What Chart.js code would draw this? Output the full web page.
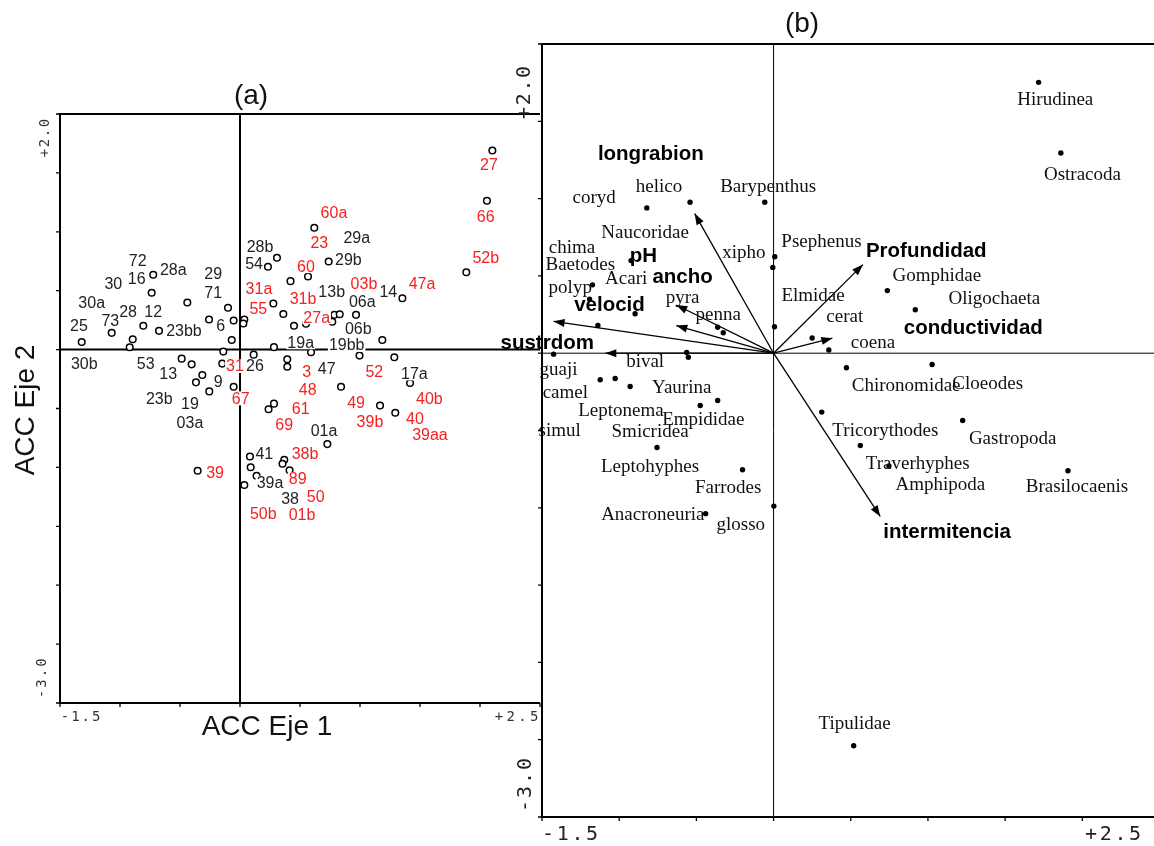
<!DOCTYPE html>
<html>
<head>
<meta charset="utf-8">
<script src="https://cdn.jsdelivr.net/npm/chart.js@4.4.0/dist/chart.umd.min.js"></script>
<style>
  html, body { margin: 0; padding: 0; background: #fff; overflow: hidden; }
  canvas { position: absolute; left: 0; top: 0; }
</style>
</head>
<body>
<canvas id="chartA" width="1154" height="846"></canvas>
<canvas id="chartB" width="1170" height="846"></canvas>
<script>
// ---- panel (a): sites ----
const siteX = [-1.319, -1.069, -0.894, -0.919, -0.806, -0.736, -0.723, -0.675, -0.439, -0.258,
  -0.100, -0.053, -0.069, -0.139, 0.036, 0.028, 0.233, 0.308, 0.278, 0.361,
  0.421, 0.450, 0.283, 0.114, -0.486, 0.550, 2.103, 2.058, 0.619, 0.739,
  1.886, 0.567, 1.353, 0.769, 0.786, 0.831, 0.967, 1.186, 0.592, 0.394,
  0.996, 1.286, -0.403, -0.148, 0.394, -0.314, -0.367, -0.256, -0.053, 0.238,
  0.283, 0.083, 0.089, -0.353, 0.036, 0.138, 0.369, 0.354, 0.413, 0.842,
  1.417, 1.167, 1.294, 0.728];
const siteY = [0.064, 0.142, 0.088, 0.020, 0.202, 0.482, 0.635, 0.159, 0.400, 0.255,
  0.355, 0.247, 0.082, -0.017, 0.255, 0.221, 0.703, 0.780, 0.391, 0.302,
  0.581, 0.202, 0.021, -0.043, -0.077, 0.219, 1.690, 1.264, 1.035, 0.748,
  0.657, 0.621, 0.436, 0.236, 0.295, 0.300, 0.295, 0.082, -0.023, -0.082,
  -0.051, -0.065, -0.125, -0.119, -0.145, -0.215, -0.278, -0.355, -0.315, -0.506,
  -0.459, -0.907, -0.999, -1.029, -1.150, -1.071, -0.935, -0.969, -1.025, -0.315,
  -0.283, -0.474, -0.536, -0.802];

const blackLabels = ['72', '30', '16', '28a', '29', '71', '30a', '28', '12', '25', '73', '23bb', '6',
  '28b', '54', '19a', '29a', '29b', '13b', '06a', '14', '06b', '19bb', '30b', '53', '13', '9', '26',
  '23b', '19', '03a', '41', '39a', '38', '47', '17a', '01a'];
const blackLabelX = [-0.853, -1.056, -0.861, -0.556, -0.223, -0.223, -1.236, -0.933, -0.723, -1.342, -1.081, -0.467, -0.161,
  0.167, 0.117, 0.506, 0.973, 0.903, 0.764, 1.019, 1.236, 0.986, 0.889, -1.298, -0.786, -0.598, -0.181, 0.125,
  -0.673, -0.417, -0.417, 0.203, 0.250, 0.417, 0.723, 1.453, 0.700];
const blackLabelY = [0.757, 0.564, 0.601, 0.678, 0.644, 0.482, 0.402, 0.326, 0.326, 0.202, 0.244, 0.162, 0.202,
  0.878, 0.729, 0.062, 0.955, 0.765, 0.493, 0.408, 0.493, 0.181, 0.040, -0.122, -0.122, -0.202, -0.270, -0.139,
  -0.419, -0.462, -0.618, -0.882, -1.131, -1.264, -0.159, -0.202, -0.689];

const redLabels = ['27', '66', '60a', '23', '52b', '60', '31a', '55', '31b', '03b', '47a', '27a', '31', '67',
  '3', '52', '48', '49', '40b', '61', '39b', '40', '39aa', '69', '39', '38b', '89', '50', '50b', '01b'];
const redLabelX = [2.075, 2.048, 0.783, 0.661, 2.048, 0.550, 0.158, 0.153, 0.525, 1.033, 1.517, 0.639, -0.042, 0.006,
  0.556, 1.119, 0.564, 0.967, 1.578, 0.506, 1.083, 1.458, 1.583, 0.368, -0.208, 0.542, 0.481, 0.631, 0.194, 0.517];
const redLabelY = [1.571, 1.131, 1.159, 0.910, 0.785, 0.708, 0.519, 0.344, 0.431, 0.564, 0.564, 0.275, -0.139, -0.414,
  -0.185, -0.185, -0.340, -0.448, -0.419, -0.499, -0.612, -0.584, -0.725, -0.638, -1.043, -0.887, -1.099, -1.247, -1.392, -1.397];

// ---- panel (b): species and environmental variables ----
const speciesX = [1.717, 1.861, -0.541, -0.821, -0.057, 0.008, -0.005, -0.923, -1.173, -1.192,
  -0.897, -1.138, -0.362, -0.326, 0.006, 0.250, 0.358, 0.737, 0.918, -1.425,
  -0.563, -0.552, -1.123, -1.026, -0.929, -0.475, -0.362, -0.755, -0.201, 0.002,
  -0.440, 0.312, 0.472, 1.027, 1.225, 0.562, 0.747, 1.907, 0.519];
const speciesY = [1.752, 1.295, 0.976, 0.940, 0.976, 0.624, 0.555, 0.599, 0.442, 0.350,
  0.255, 0.179, 0.168, 0.132, 0.171, 0.098, 0.021, 0.405, 0.281, -0.006,
  0.005, -0.026, -0.172, -0.164, -0.215, -0.338, -0.306, -0.610, -0.754, -0.989,
  -1.038, -0.381, -0.094, -0.073, -0.435, -0.597, -0.730, -0.760, -2.539];

const speciesNames = ['coryd', 'helico', 'Barypenthus', 'Naucoridae', 'chima', 'Baetodes', 'Acari', 'xipho',
  'Psephenus', 'polyp', 'pyra', 'penna', 'Elmidae', 'cerat', 'coena', 'Hirudinea', 'Ostracoda', 'Gomphidae',
  'Oligochaeta', 'bival', 'guaji', 'Yaurina', 'camel', 'Leptonema', 'Empididae', 'simul', 'Smicridea',
  'Leptohyphes', 'Farrodes', 'Anacroneuria', 'glosso', 'Chironomidae', 'Cloeodes', 'Tricorythodes',
  'Gastropoda', 'Traverhyphes', 'Amphipoda', 'Brasilocaenis', 'Tipulidae'];
const speciesLabelX = [-1.162, -0.742, -0.035, -0.832, -1.306, -1.252, -0.955, -0.192,
  0.310, -1.317, -0.589, -0.358, 0.256, 0.461, 0.644, 1.825, 2.001, 1.057,
  1.430, -0.832, -1.393, -0.595, -1.349, -0.989, -0.455, -1.386, -0.800,
  -0.800, -0.294, -0.782, -0.212, 0.859, 1.387, 0.724,
  1.549, 0.934, 1.081, 1.965, 0.525];
const speciesLabelY = [1.005, 1.073, 1.073, 0.776, 0.681, 0.571, 0.483, 0.646,
  0.722, 0.423, 0.358, 0.250, 0.373, 0.233, 0.065, 1.640, 1.153, 0.498,
  0.352, -0.058, -0.112, -0.224, -0.256, -0.377, -0.431, -0.504, -0.511,
  -0.737, -0.873, -1.045, -1.109, -0.213, -0.198, -0.506,
  -0.558, -0.715, -0.855, -0.866, -2.400];

const envNames = ['longrabion', 'pH', 'ancho', 'velocid', 'sustrdom', 'Profundidad', 'conductividad', 'intermitencia'];
const envX = [-0.511, -0.630, -0.630, -1.425, -1.090, 0.579, 0.381, 0.691];
const envY = [0.903, 0.312, 0.179, 0.206, 0.000, 0.573, 0.097, -1.056];
const envLabelX = [-0.795, -0.843, -0.589, -1.063, -1.466, 0.989, 1.294, 1.124];
const envLabelY = [1.289, 0.625, 0.491, 0.308, 0.063, 0.657, 0.158, -1.157];

const SANS = '"Liberation Sans", Arial, sans-serif';
const SERIF = '"Liberation Serif", "Times New Roman", serif';
const MONO = '"DejaVu Sans Mono", monospace';

// draw a string one char at a time (CANOCO style spaced tick labels)
function spaced(ctx, text, x, y, step, vertical) {
  for (let i = 0; i < text.length; i++) {
    if (vertical) {
      ctx.save();
      ctx.translate(x, y - i * step);
      ctx.rotate(-Math.PI / 2);
      ctx.fillText(text[i], 0, 0);
      ctx.restore();
    } else {
      ctx.fillText(text[i], x + i * step, y);
    }
  }
}

function zeroLines(chart, width) {
  const { ctx, chartArea: a, scales } = chart;
  const x0 = scales.x.getPixelForValue(0);
  const y0 = scales.y.getPixelForValue(0);
  ctx.save();
  ctx.strokeStyle = '#000';
  ctx.lineWidth = width;
  ctx.beginPath();
  ctx.moveTo(x0, a.top); ctx.lineTo(x0, a.bottom);
  ctx.moveTo(a.left, y0); ctx.lineTo(a.right, y0);
  ctx.stroke();
  ctx.restore();
}

function frame(chart, rightEdge) {
  const { ctx, chartArea: a, scales } = chart;
  ctx.save();
  ctx.strokeStyle = '#000';
  ctx.lineWidth = 2;
  ctx.beginPath();
  ctx.moveTo(rightEdge, a.top); ctx.lineTo(a.left, a.top);
  ctx.lineTo(a.left, a.bottom); ctx.lineTo(rightEdge, a.bottom);
  ctx.stroke();
  ctx.lineWidth = 1.3;
  ctx.beginPath();
  for (let v = -3; v <= 2.001; v += 0.5) {
    const y = scales.y.getPixelForValue(v);
    ctx.moveTo(a.left - 4, y); ctx.lineTo(a.left, y);
  }
  for (let v = -1.5; v <= 2.501; v += 0.5) {
    const x = scales.x.getPixelForValue(v);
    ctx.moveTo(x, a.bottom); ctx.lineTo(x, a.bottom + 4);
  }
  ctx.stroke();
  ctx.restore();
}

const panelA = {
  id: 'panelA',
  beforeDatasetsDraw(chart) { zeroLines(chart, 2); },
  afterDatasetsDraw(chart) {
    const { ctx, scales } = chart;
    ctx.save();
    ctx.font = '16px ' + SANS;
    ctx.textAlign = 'center';
    ctx.textBaseline = 'middle';
    const put = (names, xs, ys, color) => {
      names.forEach((t, i) => {
        const x = scales.x.getPixelForValue(xs[i]);
        const y = scales.y.getPixelForValue(ys[i]);
        const w = ctx.measureText(t).width;
        ctx.fillStyle = '#fff';
        ctx.fillRect(x - w / 2 - 1, y - 7, w + 2, 14);
        ctx.fillStyle = color;
        ctx.fillText(t, x, y + 1);
      });
    };
    put(blackLabels, blackLabelX, blackLabelY, '#222');
    put(redLabels, redLabelX, redLabelY, '#f52020');
    ctx.restore();
  },
  afterDraw(chart) {
    const { ctx } = chart;
    frame(chart, chart.chartArea.right);
    ctx.save();
    ctx.fillStyle = '#111';
    ctx.textAlign = 'center';
    ctx.textBaseline = 'middle';
    ctx.font = '28px ' + SANS;
    ctx.fillText('(a)', 251, 96);
    ctx.fillText('ACC Eje 1', 267, 727);
    ctx.save();
    ctx.translate(26, 410);
    ctx.rotate(-Math.PI / 2);
    ctx.fillText('ACC Eje 2', 0, 0);
    ctx.restore();
    ctx.fillStyle = '#333';
    ctx.font = '14px ' + MONO;
    spaced(ctx, '-1.5', 65, 717, 10.4, false);
    spaced(ctx, '+2.5', 499, 717, 11.7, false);
    spaced(ctx, '+2.0', 45, 153, 10, true);
    spaced(ctx, '-3.0', 42, 694, 10.5, true);
    ctx.restore();
  }
};

const panelB = {
  id: 'panelB',
  beforeDatasetsDraw(chart) { zeroLines(chart, 1); },
  afterDatasetsDraw(chart) {
    const { ctx, scales } = chart;
    const x0 = scales.x.getPixelForValue(0);
    const y0 = scales.y.getPixelForValue(0);
    ctx.save();
    // arrow heads
    ctx.fillStyle = '#000';
    envX.forEach((ex, i) => {
      const tx = scales.x.getPixelForValue(ex);
      const ty = scales.y.getPixelForValue(envY[i]);
      const ang = Math.atan2(ty - y0, tx - x0);
      ctx.save();
      ctx.translate(tx, ty);
      ctx.rotate(ang);
      ctx.beginPath();
      ctx.moveTo(0, 0); ctx.lineTo(-11, -4); ctx.lineTo(-11, 4);
      ctx.closePath();
      ctx.fill();
      ctx.restore();
    });
    ctx.textAlign = 'center';
    ctx.textBaseline = 'middle';
    ctx.fillStyle = '#111';
    ctx.font = '19px ' + SERIF;
    speciesNames.forEach((t, i) => {
      ctx.fillText(t, scales.x.getPixelForValue(speciesLabelX[i]), scales.y.getPixelForValue(speciesLabelY[i]));
    });
    ctx.fillStyle = '#000';
    ctx.font = 'bold 20.5px ' + SANS;
    envNames.forEach((t, i) => {
      ctx.fillText(t, scales.x.getPixelForValue(envLabelX[i]), scales.y.getPixelForValue(envLabelY[i]));
    });
    ctx.restore();
  },
  afterDraw(chart) {
    const { ctx } = chart;
    frame(chart, chart.width);
    ctx.save();
    ctx.fillStyle = '#111';
    ctx.textAlign = 'center';
    ctx.textBaseline = 'middle';
    ctx.font = '28px ' + SANS;
    ctx.fillText('(b)', 802, 24);
    ctx.fillStyle = '#222';
    ctx.font = '20px ' + MONO;
    spaced(ctx, '-1.5', 548, 835, 14.7, false);
    spaced(ctx, '+2.5', 1091, 835, 14.7, false);
    spaced(ctx, '+2.0', 525, 113, 13.7, true);
    spaced(ctx, '-3.0', 526, 806, 14, true);
    ctx.restore();
  }
};

const hiddenScales = {
  x: { type: 'linear', min: -1.5, max: 2.5, display: false },
  y: { type: 'linear', min: -3, max: 2, display: false },
};

new Chart(document.getElementById('chartA').getContext('2d'), {
  type: 'scatter',
  data: {
    datasets: [{
      label: 'sitios',
      data: siteX.map((x, i) => ({ x, y: siteY[i] })),
      pointRadius: 3.3,
      pointBorderWidth: 1.5,
      borderColor: '#000',
      backgroundColor: '#fff',
    }],
  },
  options: {
    responsive: false,
    devicePixelRatio: 1,
    animation: false,
    events: [],
    layout: { padding: { left: 60, top: 114, right: 1154 - 540, bottom: 846 - 703 } },
    plugins: { legend: { display: false }, tooltip: { enabled: false } },
    scales: hiddenScales,
  },
  plugins: [panelA],
});

new Chart(document.getElementById('chartB').getContext('2d'), {
  type: 'scatter',
  data: {
    datasets: [{
      label: 'especies',
      data: speciesX.map((x, i) => ({ x, y: speciesY[i] })),
      pointRadius: 2.7,
      pointBorderWidth: 0,
      backgroundColor: '#000',
      borderColor: '#000',
    }].concat(envNames.map((n, i) => ({
      label: n,
      type: 'line',
      showLine: true,
      data: [{ x: 0, y: 0 }, { x: envX[i], y: envY[i] }],
      borderColor: '#000',
      borderWidth: 1.3,
      pointRadius: 0,
      fill: false,
    }))),
  },
  options: {
    responsive: false,
    devicePixelRatio: 1,
    animation: false,
    events: [],
    layout: { padding: { left: 542, top: 44, right: 1170 - 1159.5, bottom: 846 - 817 } },
    plugins: { legend: { display: false }, tooltip: { enabled: false } },
    scales: hiddenScales,
  },
  plugins: [panelB],
});
</script>
</body>
</html>
